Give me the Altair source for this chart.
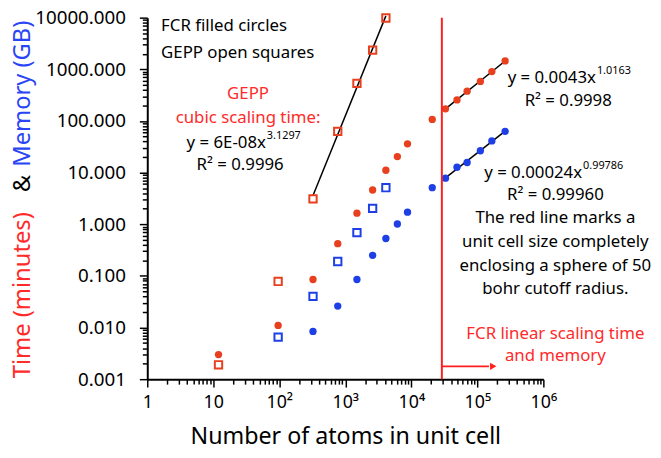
import altair as alt
import pandas as pd
import numpy as np

# ---------------- data ----------------
gepp_time_atoms = [12, 96, 324, 768, 1500, 2592, 4116]
gepp_time = [0.0019, 0.078, 3.1, 63, 535, 2345, 9860]

gepp_mem_atoms = [96, 324, 768, 1500, 2592, 4116]
gepp_mem = [0.0065, 0.040, 0.19, 0.69, 2.03, 5.1]

fcr_time_atoms = [12, 96, 324, 768, 1500, 2592, 4116, 6144, 8748, 20736,
                  32928, 49152, 69984, 111132, 165888, 263424]
fcr_time = [0.0030, 0.011, 0.085, 0.42, 1.64, 4.6, 11.1, 20.4, 36, 107,
            172, 255, 377, 583, 902, 1456]

fcr_mem_atoms = [324, 768, 1500, 2592, 4116, 6144, 8748, 20736,
                 32928, 49152, 69984, 111132, 165888, 263424]
fcr_mem = [0.0084, 0.026, 0.085, 0.25, 0.53, 1.01, 1.71, 5.1,
           7.8, 12.7, 15.7, 26.5, 41, 63]

cutoff_atoms = 29000          # red vertical line
gepp_fit_range = (324, 4116)  # fitted points for cubic trendline
fcr_fit_min = 32928           # linear trendlines start here

x_major = [1, 10, 100, 1000, 10000, 100000, 1000000]
x_major_labels = ["1", "10", "10²", "10³", "10⁴", "10⁵", "10⁶"]
x_minor = [m * 10.0 ** k for k in range(0, 6) for m in range(2, 10)]
y_major = [0.001, 0.01, 0.1, 1, 10, 100, 1000, 10000]
y_minor = [m * 10.0 ** k for k in range(-3, 4) for m in range(2, 10)]

# annotations (data coordinates)
left_labels = ["FCR filled circles", "GEPP open squares"]
left_x = [1.62, 1.62]
left_y = [7020, 2040]

center_labels = ["GEPP", "cubic scaling time:", "R² = 0.9996", "R² = 0.9998",
                 "R² = 0.99960", "The red line marks a", "unit cell size completely",
                 "enclosing a sphere of 50", "bohr cutoff radius.",
                 "FCR linear scaling time", "and memory"]
center_x = [33.6, 33.6, 25.5, 2.38e6, 1.52e6, 1.52e6, 1.52e6, 1.52e6, 1.52e6,
            1.52e6, 1.52e6]
center_y = [334, 115.6, 13.9, 245, 3.69, 1.337, 0.444, 0.1535, 0.0556,
            0.00762, 0.00276]
center_red = [True, True, False, False, False, False, False, False, False, True, True]

eq_base = ["y = 6E-08x", "y = 0.0043x", "y = 0.00024x"]
eq_exp = ["3.1297", "1.0163", "0.99786"]
eq_x = [62.6, 6.25e6, 3.86e6]
eq_y = [36.7, 676, 9.75]

arrow_y = 0.00177
arrow_end = 150000
arrow_head = 174000

# ---------------- styling ----------------
FONT = "Noto Sans"
RED = "#E8401E"
BLUE = "#1E3FE6"
LINE_RED = "#FF1F1F"
TXT_RED = "#FF2A2A"
TXT_BLUE = "#2A45F5"

x_label_expr = ""
for v, l in zip(x_major, x_major_labels):
    x_label_expr += f"abs(datum.value - {v}) < {v * 1e-6} ? '{l}' : "
x_label_expr += "''"

x_scale = alt.Scale(type="log", domain=[1, 1e6], nice=False)
y_scale = alt.Scale(type="log", domain=[0.001, 10000], nice=False)

x_axis = alt.Axis(values=x_major, labelExpr=x_label_expr, grid=False, orient="bottom",
                  tickSize=8, tickWidth=1.5, tickColor="black", domainColor="black",
                  domainWidth=2, labelFont=FONT, labelFontSize=18,
                  labelColor="black", labelPadding=7, labelOverlap=False,
                  labelFlush=False,
                  title="Number of atoms in unit cell", titleFont=FONT,
                  titleFontSize=23.5, titleFontWeight="normal", titleColor="black",
                  titlePadding=13)
y_axis = alt.Axis(values=y_major, format=".3f", grid=False, orient="left",
                  tickSize=8, tickWidth=1.5, tickColor="black", domainColor="black",
                  domainWidth=2, labelFont=FONT, labelFontSize=19,
                  labelColor="black", labelPadding=14, labelOverlap=False,
                  labelFlush=False, title=None)
x_minor_axis = alt.Axis(values=x_minor, labels=False, grid=False, domain=False,
                        orient="bottom", tickSize=5, tickWidth=1.5,
                        tickColor="black", title=None)
y_minor_axis = alt.Axis(values=y_minor, labels=False, grid=False, domain=False,
                        orient="left", tickSize=5, tickWidth=1.5,
                        tickColor="black", title=None)

X = alt.X("atoms:Q", scale=x_scale, axis=None)
Y = alt.Y("value:Q", scale=y_scale, axis=None)

# ---------------- tables ----------------
fcr_df = pd.concat([
    pd.DataFrame({"atoms": fcr_time_atoms, "value": fcr_time, "c": RED}),
    pd.DataFrame({"atoms": fcr_mem_atoms, "value": fcr_mem, "c": BLUE}),
])
gepp_df = pd.concat([
    pd.DataFrame({"atoms": gepp_time_atoms, "value": gepp_time, "c": RED}),
    pd.DataFrame({"atoms": gepp_mem_atoms, "value": gepp_mem, "c": BLUE}),
])


def power_fit_line(xs, ys, lo, hi, name):
    xs = np.array(xs, float)
    ys = np.array(ys, float)
    m = (xs >= lo) & (xs <= hi)
    b, a = np.polyfit(np.log10(xs[m]), np.log10(ys[m]), 1)
    ends = np.array([xs[m].min(), xs[m].max()])
    return pd.DataFrame({"atoms": ends, "value": 10 ** (a + b * np.log10(ends)),
                         "g": name})


fit_df = pd.concat([
    power_fit_line(gepp_time_atoms, gepp_time, *gepp_fit_range, "gepp"),
    power_fit_line(fcr_time_atoms, fcr_time, fcr_fit_min, 1e9, "fcr_t"),
    power_fit_line(fcr_mem_atoms, fcr_mem, fcr_fit_min, 1e9, "fcr_m"),
])

left_df = pd.DataFrame({"atoms": left_x, "value": left_y, "t": left_labels})
center_df = pd.DataFrame({"atoms": center_x, "value": center_y, "t": center_labels,
                          "c": [TXT_RED if r else "black" for r in center_red]})
eq_df = pd.DataFrame({"atoms": eq_x, "value": eq_y, "b": eq_base, "e": eq_exp})
cut_df = pd.DataFrame({"atoms": [cutoff_atoms]})
arrow_df = pd.DataFrame({"atoms": [cutoff_atoms], "atoms2": [arrow_end],
                         "value": [arrow_y]})
head_df = pd.DataFrame({"atoms": [arrow_head], "value": [arrow_y]})

# ---------------- layers ----------------
minor_axes = alt.Chart(fcr_df).mark_point(opacity=0).encode(
    x=alt.X("atoms:Q", scale=x_scale, axis=x_minor_axis),
    y=alt.Y("value:Q", scale=y_scale, axis=y_minor_axis))

fits = alt.Chart(fit_df).mark_line(color="black", strokeWidth=1.5).encode(
    x=X, y=Y, detail="g:N")

circles = alt.Chart(fcr_df).mark_circle(size=55, opacity=1).encode(
    x=alt.X("atoms:Q", scale=x_scale, axis=x_axis),
    y=alt.Y("value:Q", scale=y_scale, axis=y_axis),
    color=alt.Color("c:N", scale=None))

squares = alt.Chart(gepp_df).mark_point(shape="square", filled=False,
                                        strokeWidth=2, size=55, opacity=1).encode(
    x=X, y=Y, color=alt.Color("c:N", scale=None))

cut = alt.Chart(cut_df).mark_rule(color=LINE_RED, strokeWidth=2).encode(x=X)

arrow = alt.Chart(arrow_df).mark_rule(color=LINE_RED, strokeWidth=2).encode(
    x=X, x2="atoms2:Q", y=Y)
head = alt.Chart(head_df).mark_point(shape="triangle-right", filled=True,
                                     size=55, color=LINE_RED, opacity=1).encode(
    x=X, y=Y)

left_txt = alt.Chart(left_df).mark_text(align="left", baseline="middle", font=FONT,
                                        fontSize=17, color="black").encode(
    x=X, y=Y, text="t:N")
center_txt = alt.Chart(center_df).mark_text(align="center", baseline="middle",
                                            font=FONT, fontSize=17).encode(
    x=X, y=Y, text="t:N", color=alt.Color("c:N", scale=None))
eq_txt = alt.Chart(eq_df).mark_text(align="right", baseline="middle", font=FONT,
                                    fontSize=17, color="black").encode(
    x=X, y=Y, text="b:N")
exp_txt = alt.Chart(eq_df).mark_text(align="left", baseline="middle", font=FONT,
                                     fontSize=11, color="black", dx=1, dy=-7).encode(
    x=X, y=Y, text="e:N")

# multi-coloured rotated y title
ytitle_df = pd.DataFrame({"k": [0]})
YT_X = -126
yt1 = alt.Chart(ytitle_df).mark_text(text="Time (minutes)", angle=270, align="left",
                                     baseline="middle", font=FONT, fontSize=24,
                                     color=TXT_RED).encode(
    x=alt.value(YT_X), y=alt.value(365))
yt2 = alt.Chart(ytitle_df).mark_text(text="&", angle=270, align="center",
                                     baseline="middle", font=FONT, fontSize=24,
                                     color="black").encode(
    x=alt.value(YT_X), y=alt.value(168))
yt3 = alt.Chart(ytitle_df).mark_text(text="Memory (GB)", angle=270, align="right",
                                     baseline="middle", font=FONT, fontSize=24,
                                     color=TXT_BLUE).encode(
    x=alt.value(YT_X), y=alt.value(3))

chart = alt.layer(
    minor_axes, fits, circles, squares, cut, arrow, head,
    left_txt, center_txt, eq_txt, exp_txt, yt1, yt2, yt3
).resolve_axis(
    x="independent", y="independent"
).properties(
    width=401, height=366,
    autosize=alt.AutoSizeParams(type="none"),
    padding={"left": 141, "top": 7, "right": 111, "bottom": 76},
    background="white",
).configure_view(stroke=None)

chart.save("out.html", embed_options={"renderer": "svg", "actions": False})
